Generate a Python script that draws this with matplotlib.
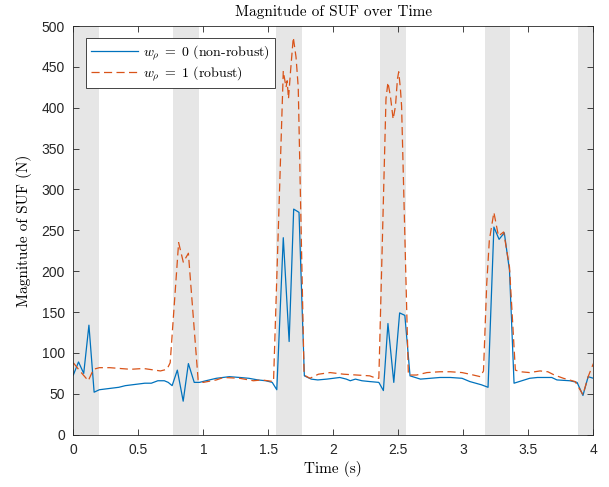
import matplotlib
matplotlib.use("Agg")
import matplotlib.pyplot as plt

# gray bands (start, end) in s
band_start = [0.0, 0.765, 1.56, 2.36, 3.165, 3.885]
band_end   = [0.2, 0.965, 1.76, 2.56, 3.36, 4.0]

# w_rho = 0 (non-robust)
t_nonrobust = [0.00, 0.04, 0.08, 0.12, 0.16, 0.20, 0.25, 0.30, 0.35, 0.40, 0.45, 0.50,
               0.55, 0.60, 0.65, 0.70, 0.73, 0.76, 0.80, 0.845, 0.885, 0.93, 0.97,
               1.02, 1.10, 1.15, 1.20, 1.28, 1.35, 1.42, 1.48, 1.53, 1.565, 1.615,
               1.66, 1.695, 1.736, 1.777, 1.83, 1.88, 1.95, 2.00, 2.05, 2.10, 2.13,
               2.17, 2.22, 2.28, 2.35, 2.385, 2.42, 2.465, 2.51, 2.55, 2.59, 2.67,
               2.82, 2.90, 2.99, 3.05, 3.14, 3.19, 3.235, 3.275, 3.315, 3.355, 3.39,
               3.51, 3.57, 3.68, 3.72, 3.82, 3.875, 3.92, 3.96, 4.00]
f_nonrobust = [73, 89, 75, 134, 52, 55, 56, 57, 58, 60, 61, 62,
               63, 63, 66, 66, 64, 60, 79, 41, 87, 64, 64,
               66, 69, 70, 71, 70, 69, 67, 66, 64, 55, 241,
               114, 276, 272, 72, 68, 67, 68, 69, 70, 68, 66,
               68, 66, 65, 64, 54, 136, 64, 149, 146, 72, 68,
               70, 70, 69, 65, 61, 58, 254, 239, 247, 201, 63,
               69, 70, 70, 67, 66, 64, 48, 71, 69]

# w_rho = 1 (robust)
t_robust = [0.00, 0.05, 0.115, 0.155, 0.20, 0.28, 0.44, 0.54, 0.67, 0.72, 0.745, 0.81,
            0.846, 0.885, 0.96, 1.00, 1.10, 1.155, 1.28, 1.385, 1.45, 1.54, 1.615,
            1.636, 1.645, 1.655, 1.672, 1.692, 1.713, 1.73, 1.775, 1.82, 1.885, 1.975,
            2.08, 2.18, 2.28, 2.33, 2.35, 2.405, 2.42, 2.44, 2.46, 2.478, 2.493, 2.503,
            2.516, 2.525, 2.577, 2.64, 2.72, 2.82, 2.90, 2.99, 3.05, 3.13, 3.155, 3.18,
            3.20, 3.235, 3.27, 3.31, 3.355, 3.40, 3.44, 3.51, 3.59, 3.65, 3.70, 3.77,
            3.86, 3.92, 3.96, 4.00]
f_robust = [88, 78, 66, 80, 82, 82, 80, 81, 78, 80, 88, 235,
            211, 222, 67, 64, 67, 70, 69, 66, 67, 65, 445,
            425, 433, 411, 447, 486, 462, 425, 73, 69, 74, 76,
            74, 73, 72, 69, 69, 411, 431, 413, 386, 402, 435, 444,
            423, 402, 73, 73, 76, 77, 77, 76, 74, 71, 78, 185,
            238, 272, 243, 248, 205, 79, 77, 76, 78, 77, 73, 69,
            65, 49, 71, 87]

xticks = [0, 0.5, 1, 1.5, 2, 2.5, 3, 3.5, 4]
yticks = list(range(0, 501, 50))

plt.rcParams['mathtext.fontset'] = 'cm'
plt.rcParams['font.family'] = ['Liberation Sans', 'DejaVu Sans']

fig = plt.figure(figsize=(6.09, 4.87), dpi=100)
ax = fig.add_axes([0.1204, 0.1074, 0.8539, 0.8392])

for s, e in zip(band_start, band_end):
    ax.axvspan(s, e, color='#e6e6e6', lw=0, zorder=0)

ax.plot(t_nonrobust, f_nonrobust, color='#0072BD', lw=0.9,
        label=r'$w_\rho\;=\;0$ (non-robust)')
ax.plot(t_robust, f_robust, color='#D95319', lw=0.9, dashes=(6.5, 3.5),
        label=r'$w_\rho\;=\;1$ (robust)')

ax.set_xlim(0, 4)
ax.set_ylim(0, 500)
ax.set_xticks(xticks)
ax.set_xticklabels([f'{v:g}' for v in xticks])
ax.set_yticks(yticks)
ax.tick_params(direction='in', top=True, right=True, length=4, width=0.6,
               labelsize=10, colors='#262626', pad=6)
for sp in ax.spines.values():
    sp.set_linewidth(0.6)
    sp.set_color('#262626')

ax.set_title('Magnitude of SUF over Time', fontfamily='cmr10', fontsize=11, pad=7)
ax.set_xlabel('Time (s)', fontfamily='cmr10', fontsize=11, labelpad=3)
ax.set_ylabel('Magnitude of SUF (N)', fontfamily='cmr10', fontsize=11, labelpad=7)

leg = ax.legend(loc='upper left', bbox_to_anchor=(0.024, 0.970), borderaxespad=0,
                fancybox=False, edgecolor='#262626', framealpha=1, handlelength=3.4,
                borderpad=0.35, labelspacing=0.2, handletextpad=0.4,
                prop={'family': 'cmr10', 'size': 10})
leg.get_frame().set_linewidth(0.6)

fig.savefig('out.png', dpi=100)
